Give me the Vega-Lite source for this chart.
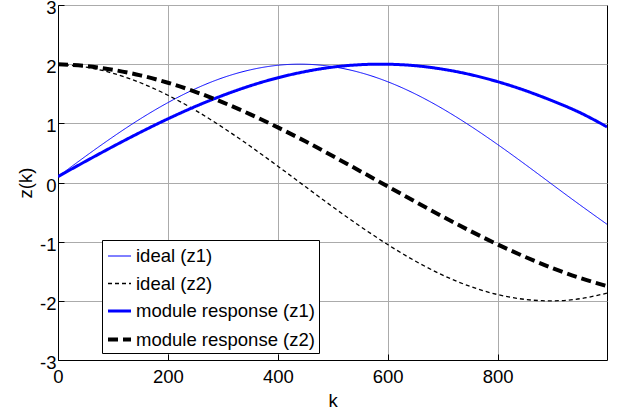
{
  "$schema": "https://vega.github.io/schema/vega-lite/v6.json",
  "width": 549,
  "height": 355,
  "autosize": {"type": "none"},
  "padding": {"left": 58, "top": 5, "right": 20, "bottom": 52},
  "background": "white",
  "config": {
    "font": "Liberation Sans",
    "view": {"stroke": "black", "strokeWidth": 1},
    "axis": {
      "labelFont": "Liberation Sans",
      "titleFont": "Liberation Sans",
      "labelFontSize": 18.5,
      "titleFontSize": 18.5,
      "titleFontWeight": "normal",
      "labelColor": "black",
      "titleColor": "black",
      "domainColor": "black",
      "tickColor": "black",
      "gridColor": "#ababab",
      "gridWidth": 1,
      "tickSize": -6,
      "domain": true
    },
    "legend": {
      "labelFont": "Liberation Sans",
      "labelFontSize": 18.5,
      "labelColor": "black",
      "labelLimit": 400
    }
  },
  "data": {
    "values": [
      {"k": 0, "z": 0.100, "series": "ideal (z1)"},
      {"k": 50, "z": 0.442, "series": "ideal (z1)"},
      {"k": 100, "z": 0.771, "series": "ideal (z1)"},
      {"k": 150, "z": 1.077, "series": "ideal (z1)"},
      {"k": 200, "z": 1.350, "series": "ideal (z1)"},
      {"k": 250, "z": 1.584, "series": "ideal (z1)"},
      {"k": 300, "z": 1.771, "series": "ideal (z1)"},
      {"k": 350, "z": 1.904, "series": "ideal (z1)"},
      {"k": 400, "z": 1.981, "series": "ideal (z1)"},
      {"k": 450, "z": 1.999, "series": "ideal (z1)"},
      {"k": 500, "z": 1.957, "series": "ideal (z1)"},
      {"k": 550, "z": 1.858, "series": "ideal (z1)"},
      {"k": 600, "z": 1.703, "series": "ideal (z1)"},
      {"k": 650, "z": 1.497, "series": "ideal (z1)"},
      {"k": 700, "z": 1.246, "series": "ideal (z1)"},
      {"k": 750, "z": 0.958, "series": "ideal (z1)"},
      {"k": 800, "z": 0.642, "series": "ideal (z1)"},
      {"k": 850, "z": 0.307, "series": "ideal (z1)"},
      {"k": 900, "z": -0.038, "series": "ideal (z1)"},
      {"k": 950, "z": -0.380, "series": "ideal (z1)"},
      {"k": 999, "z": -0.706, "series": "ideal (z1)"},

      {"k": 0, "z": 1.998, "series": "ideal (z2)"},
      {"k": 50, "z": 1.951, "series": "ideal (z2)"},
      {"k": 100, "z": 1.846, "series": "ideal (z2)"},
      {"k": 150, "z": 1.686, "series": "ideal (z2)"},
      {"k": 200, "z": 1.475, "series": "ideal (z2)"},
      {"k": 250, "z": 1.221, "series": "ideal (z2)"},
      {"k": 300, "z": 0.929, "series": "ideal (z2)"},
      {"k": 350, "z": 0.612, "series": "ideal (z2)"},
      {"k": 400, "z": 0.276, "series": "ideal (z2)"},
      {"k": 450, "z": -0.069, "series": "ideal (z2)"},
      {"k": 500, "z": -0.412, "series": "ideal (z2)"},
      {"k": 550, "z": -0.741, "series": "ideal (z2)"},
      {"k": 600, "z": -1.049, "series": "ideal (z2)"},
      {"k": 650, "z": -1.327, "series": "ideal (z2)"},
      {"k": 700, "z": -1.565, "series": "ideal (z2)"},
      {"k": 750, "z": -1.756, "series": "ideal (z2)"},
      {"k": 800, "z": -1.894, "series": "ideal (z2)"},
      {"k": 850, "z": -1.976, "series": "ideal (z2)"},
      {"k": 900, "z": -2.000, "series": "ideal (z2)"},
      {"k": 950, "z": -1.964, "series": "ideal (z2)"},
      {"k": 999, "z": -1.871, "series": "ideal (z2)"},

      {"k": 0, "z": 0.100, "series": "module response (z1)"},
      {"k": 50, "z": 0.357, "series": "module response (z1)"},
      {"k": 100, "z": 0.608, "series": "module response (z1)"},
      {"k": 150, "z": 0.849, "series": "module response (z1)"},
      {"k": 200, "z": 1.076, "series": "module response (z1)"},
      {"k": 250, "z": 1.285, "series": "module response (z1)"},
      {"k": 300, "z": 1.472, "series": "module response (z1)"},
      {"k": 350, "z": 1.635, "series": "module response (z1)"},
      {"k": 400, "z": 1.770, "series": "module response (z1)"},
      {"k": 450, "z": 1.875, "series": "module response (z1)"},
      {"k": 500, "z": 1.950, "series": "module response (z1)"},
      {"k": 550, "z": 1.991, "series": "module response (z1)"},
      {"k": 600, "z": 1.999, "series": "module response (z1)"},
      {"k": 650, "z": 1.974, "series": "module response (z1)"},
      {"k": 700, "z": 1.915, "series": "module response (z1)"},
      {"k": 750, "z": 1.825, "series": "module response (z1)"},
      {"k": 800, "z": 1.704, "series": "module response (z1)"},
      {"k": 850, "z": 1.555, "series": "module response (z1)"},
      {"k": 900, "z": 1.379, "series": "module response (z1)"},
      {"k": 950, "z": 1.180, "series": "module response (z1)"},
      {"k": 999, "z": 0.940, "series": "module response (z1)"},

      {"k": 0, "z": 1.998, "series": "module response (z2)"},
      {"k": 50, "z": 1.968, "series": "module response (z2)"},
      {"k": 100, "z": 1.905, "series": "module response (z2)"},
      {"k": 150, "z": 1.811, "series": "module response (z2)"},
      {"k": 200, "z": 1.686, "series": "module response (z2)"},
      {"k": 250, "z": 1.533, "series": "module response (z2)"},
      {"k": 300, "z": 1.354, "series": "module response (z2)"},
      {"k": 350, "z": 1.152, "series": "module response (z2)"},
      {"k": 400, "z": 0.931, "series": "module response (z2)"},
      {"k": 450, "z": 0.696, "series": "module response (z2)"},
      {"k": 500, "z": 0.447, "series": "module response (z2)"},
      {"k": 550, "z": 0.192, "series": "module response (z2)"},
      {"k": 600, "z": -0.066, "series": "module response (z2)"},
      {"k": 650, "z": -0.324, "series": "module response (z2)"},
      {"k": 700, "z": -0.576, "series": "module response (z2)"},
      {"k": 750, "z": -0.818, "series": "module response (z2)"},
      {"k": 800, "z": -1.047, "series": "module response (z2)"},
      {"k": 850, "z": -1.257, "series": "module response (z2)"},
      {"k": 900, "z": -1.449, "series": "module response (z2)"},
      {"k": 950, "z": -1.615, "series": "module response (z2)"},
      {"k": 999, "z": -1.751, "series": "module response (z2)"}
    ]
  },
  "mark": {"type": "line", "interpolate": "natural", "clip": true},
  "encoding": {
    "x": {
      "field": "k", "type": "quantitative",
      "scale": {"domain": [0, 999], "nice": false, "zero": false},
      "axis": {"values": [0, 200, 400, 600, 800], "title": "k", "labelPadding": 13, "titlePadding": 6, "labelFlush": false}
    },
    "y": {
      "field": "z", "type": "quantitative",
      "scale": {"domain": [-3, 3], "nice": false},
      "axis": {"values": [-3, -2, -1, 0, 1, 2, 3], "title": "z(k)", "labelPadding": 8, "labelOffset": 2.5, "titlePadding": 4, "labelFlush": false, "labelExpr": "'' + datum.value"}
    },
    "color": {
      "field": "series", "type": "nominal",
      "scale": {"type": "ordinal", "domain": ["ideal (z1)", "ideal (z2)", "module response (z1)", "module response (z2)"], "range": ["#0000ff", "#000000", "#0000ff", "#000000"]},
      "legend": {"title": null, "orient": "none", "legendX": 44, "legendY": 235, "strokeColor": "black", "fillColor": "white", "padding": 4, "symbolSize": 529, "rowPadding": 5, "labelOffset": 3, "symbolType": "stroke"}
    },
    "strokeDash": {
      "field": "series", "type": "nominal",
      "scale": {"type": "ordinal", "domain": ["ideal (z1)", "ideal (z2)", "module response (z1)", "module response (z2)"], "range": [[1, 0], [4, 3], [1, 0], [10, 5]]},
      "legend": {"title": null, "orient": "none", "legendX": 44, "legendY": 235, "strokeColor": "black", "fillColor": "white", "padding": 4, "symbolSize": 529, "rowPadding": 5, "labelOffset": 3, "symbolType": "stroke"}
    },
    "strokeWidth": {
      "field": "series", "type": "nominal",
      "scale": {"type": "ordinal", "domain": ["ideal (z1)", "ideal (z2)", "module response (z1)", "module response (z2)"], "range": [1, 1.3, 3, 4]},
      "legend": {"title": null, "orient": "none", "legendX": 44, "legendY": 235, "strokeColor": "black", "fillColor": "white", "padding": 4, "symbolSize": 529, "rowPadding": 5, "labelOffset": 3, "symbolType": "stroke"}
    }
  }
}
